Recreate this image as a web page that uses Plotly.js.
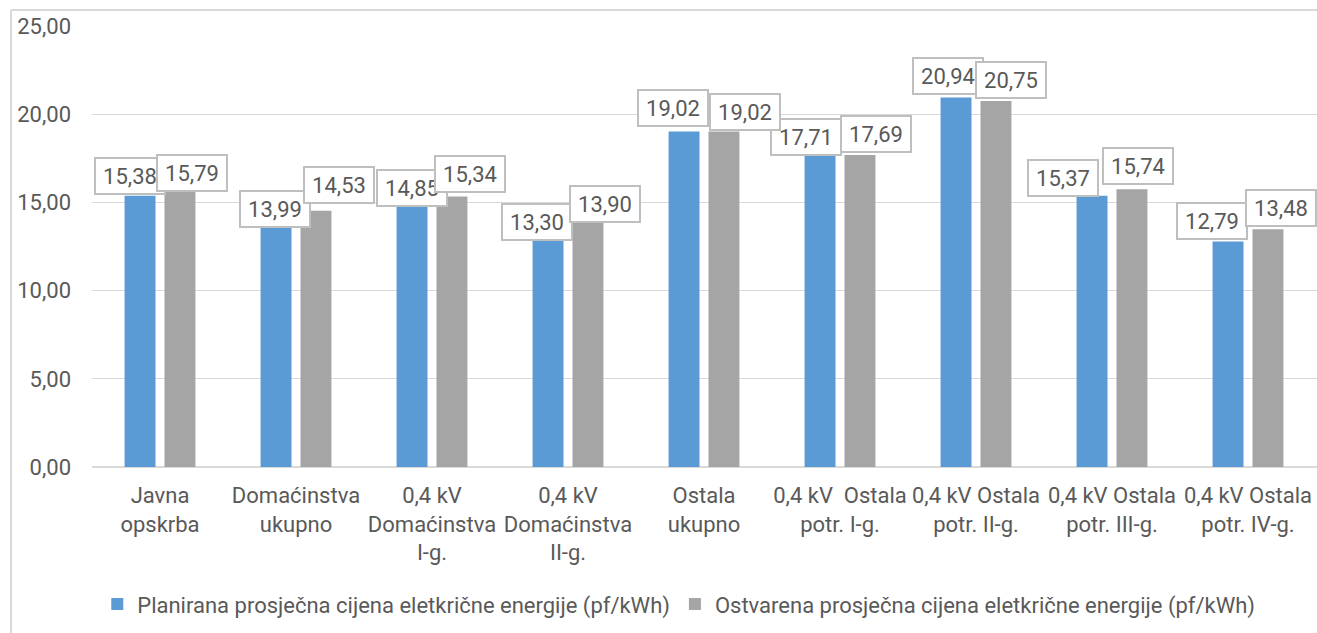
<!DOCTYPE html>
<html>
<head>
<meta charset="utf-8">
<script src="https://cdn.plot.ly/plotly-3.0.1.min.js"></script>
<style>html,body{margin:0;padding:0;background:#fff;}#chart{width:1317px;height:633px;}</style>
</head>
<body>
<div id="chart"></div>
<script>
// ---- data ----
const categories = [
  "Javna<br>opskrba",
  "Domaćinstva<br>ukupno",
  "0,4 kV<br>Domaćinstva<br>I-g.",
  "0,4 kV<br>Domaćinstva<br>II-g.",
  "Ostala<br>ukupno",
  "0,4 kV  Ostala<br>potr. I-g.",
  "0,4 kV Ostala<br>potr. II-g.",
  "0,4 kV Ostala<br>potr. III-g.",
  "0,4 kV Ostala<br>potr. IV-g."
];
const planirana = [15.38, 13.99, 14.85, 13.30, 19.02, 17.71, 20.94, 15.37, 12.79];
const ostvarena = [15.79, 14.53, 15.34, 13.90, 19.02, 17.69, 20.75, 15.74, 13.48];
const seriesNames = [
  "Planirana prosječna cijena eletkrične energije (pf/kWh)",
  "Ostvarena prosječna cijena eletkrične energije (pf/kWh)"
];
const yTickValues = [0, 5, 10, 15, 20, 25];

// ---- label nudges (pixels, as placed in the original) ----
const nudgeX1 = [-30, -21, -20, -31, -31, -34, -28, -49, -36];
const nudgeY1 = [1, -8, -2, -9, 4, -1, 3, -1, 1];
const nudgeX2 = [32, 43, 38, 37, 41, 36, 35, 26, 33];
const nudgeY2 = [-4, 7, 3, -1, 0, 2, 2, 4, 2];

const blue = "#5B9BD5", gray = "#A5A5A5", txt = "#595959";
const FONT = "Roboto, 'Open Sans', sans-serif";
const fmt = v => v.toFixed(2).replace(".", ",");

const traces = [
  {type: "bar", name: seriesNames[0], x: categories, y: planirana, marker: {color: blue}, hoverinfo: "none"},
  {type: "bar", name: seriesNames[1], x: categories, y: ostvarena, marker: {color: gray}, hoverinfo: "none"}
];

const annotations = [];
function addLabels(vals, nx, ny) {
  vals.forEach((v, i) => {
    annotations.push({
      x: categories[i], y: v, xref: "x", yref: "y",
      text: fmt(v), showarrow: false,
      xanchor: "center", yanchor: "bottom",
      xshift: nx[i], yshift: ny[i],
      font: {family: FONT, size: 22, color: txt},
      bgcolor: "#ffffff", bordercolor: "#BFBFBF", borderwidth: 2, borderpad: 2,
      width: 64, height: 30
    });
  });
}
addLabels(planirana, nudgeX1, nudgeY1);
addLabels(ostvarena, nudgeX2, nudgeY2);

const layout = {
  width: 1317, height: 633,
  margin: {l: 92, r: 0, t: 26, b: 166},
  paper_bgcolor: "#ffffff", plot_bgcolor: "#ffffff",
  separators: ",.",
  barmode: "group", bargap: 0.413, bargroupgap: 0.225,
  font: {family: FONT, size: 22, color: txt},
  xaxis: {
    type: "category", showgrid: false, zeroline: false, showline: false,
    ticks: "", tickfont: {family: FONT, size: 22, color: txt}, ticklabelstandoff: 13
  },
  yaxis: {
    range: [0, 25], tickvals: yTickValues, tickformat: ".2f",
    showgrid: true, gridcolor: "#D9D9D9", gridwidth: 1.3,
    zeroline: true, zerolinecolor: "#D9D9D9", zerolinewidth: 1.3,
    showline: false, ticks: "", ticklabelstandoff: 20,
    tickfont: {family: FONT, size: 22, color: txt}
  },
  showlegend: true,
  legend: {
    orientation: "h", x: 0.479, xanchor: "center", y: -0.311, yanchor: "middle",
    font: {family: FONT, size: 22, color: txt}, itemwidth: 30, traceorder: "normal"
  },
  annotations: annotations,
  shapes: [
    {type: "line", xref: "paper", yref: "paper", x0: -0.0661, x1: -0.0661, y0: -0.5, y1: 1.0363,
     line: {color: "#D9D9D9", width: 2}, layer: "below"},
    {type: "line", xref: "paper", yref: "paper", x0: -0.0661, x1: 1.2, y0: 1.0363, y1: 1.0363,
     line: {color: "#D9D9D9", width: 2}, layer: "below"}
  ]
};

Plotly.newPlot("chart", traces, layout, {staticPlot: true});
</script>
</body>
</html>
